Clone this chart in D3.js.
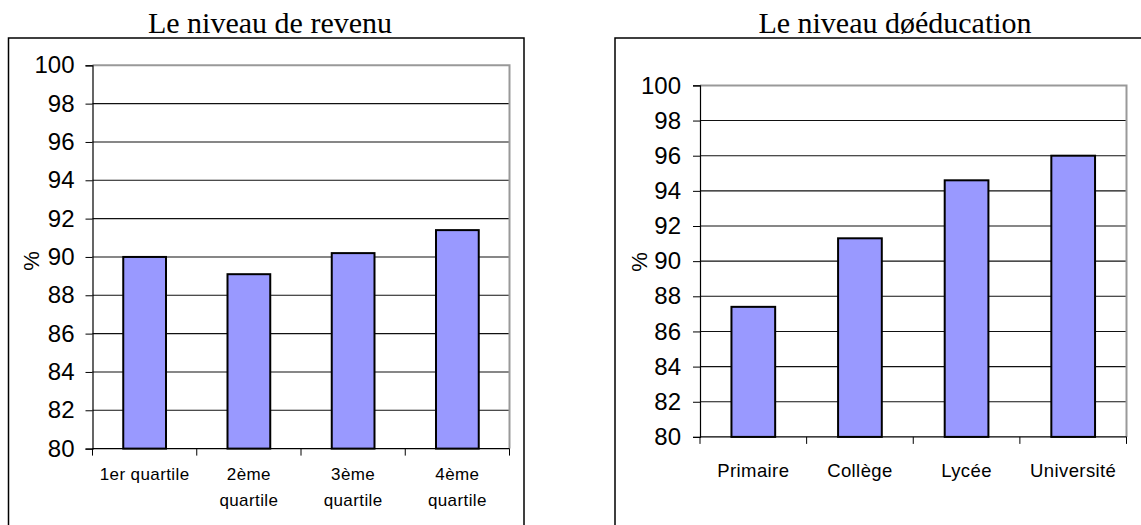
<!DOCTYPE html>
<html>
<head>
<meta charset="utf-8">
<script src="https://cdn.jsdelivr.net/npm/d3@7"></script>
<style>
  body { margin: 0; background: #fff; }
  svg { display: block; }
</style>
</head>
<body>
<svg id="chart" width="1141" height="525"></svg>
<script>
// Données
const revenuCategories = ["1er quartile", "2ème quartile", "3ème quartile", "4ème quartile"];
const revenuLabels = [["1er quartile"], ["2ème", "quartile"], ["3ème", "quartile"], ["4ème", "quartile"]];
const revenuValues = [90.0, 89.1, 90.2, 91.4];

const educationCategories = ["Primaire", "Collège", "Lycée", "Université"];
const educationLabels = [["Primaire"], ["Collège"], ["Lycée"], ["Université"]];
const educationValues = [87.4, 91.3, 94.6, 96.0];

const yTicks = [80, 82, 84, 86, 88, 90, 92, 94, 96, 98, 100];

const svg = d3.select("#chart");
const sans = "'Liberation Sans', Arial, sans-serif";
const serif = "'Liberation Serif', 'Times New Roman', serif";

function drawChart(cfg) {
  // cadre extérieur
  svg.append("rect")
    .attr("x", cfg.box[0]).attr("y", cfg.box[1])
    .attr("width", cfg.box[2] - cfg.box[0]).attr("height", cfg.box[3] - cfg.box[1])
    .attr("fill", "none").attr("stroke", "#000").attr("stroke-width", 1.5);

  const x = d3.scaleBand()
    .domain(cfg.categories)
    .range([cfg.left, cfg.right])
    .paddingInner(0.59)
    .paddingOuter(0.295);

  const y = d3.scaleLinear()
    .domain([80, 100])
    .range([cfg.bottom, cfg.top]);

  const g = svg.append("g");

  // quadrillage
  g.selectAll(".grid")
    .data(yTicks.filter(d => d > 80 && d < 100))
    .enter().append("line")
    .attr("x1", cfg.left).attr("x2", cfg.right)
    .attr("y1", d => y(d)).attr("y2", d => y(d))
    .attr("stroke", "#111").attr("stroke-width", 1.1);

  // bordure haut / droite en gris
  g.append("path")
    .attr("d", `M${cfg.left},${y(100)}H${cfg.right}V${y(80)}`)
    .attr("fill", "none").attr("stroke", "#999").attr("stroke-width", 2);

  // barres
  g.selectAll(".bar")
    .data(cfg.values)
    .enter().append("rect")
    .attr("x", (d, i) => x(cfg.categories[i]))
    .attr("y", d => y(d))
    .attr("width", x.bandwidth())
    .attr("height", d => y(80) - y(d))
    .attr("fill", "#9999ff")
    .attr("stroke", "#000")
    .attr("stroke-width", 2);

  // axe Y
  const yAxis = g.append("g")
    .attr("transform", `translate(${cfg.left},0)`)
    .call(d3.axisLeft(y).tickValues(yTicks).tickSize(7).tickPadding(cfg.yPad).tickFormat(d3.format("d")));
  yAxis.select(".domain").attr("stroke", "#000").attr("stroke-width", 1.2);
  yAxis.selectAll(".tick line").attr("stroke", "#000");
  yAxis.selectAll("text")
    .attr("font-family", sans).attr("font-size", 24).attr("fill", "#000");

  // axe X : graduations entre les catégories
  const step = x.step();
  const bounds = d3.range(cfg.categories.length + 1).map(i => cfg.left + i * step);
  g.append("line")
    .attr("x1", cfg.left).attr("x2", cfg.right)
    .attr("y1", y(80)).attr("y2", y(80))
    .attr("stroke", "#000").attr("stroke-width", 1.2);
  g.selectAll(".xtick")
    .data(bounds)
    .enter().append("line")
    .attr("x1", d => d).attr("x2", d => d)
    .attr("y1", y(80)).attr("y2", y(80) + 7)
    .attr("stroke", "#000");

  // libellés X
  cfg.labels.forEach((lines, i) => {
    const t = g.append("text")
      .attr("x", x(cfg.categories[i]) + x.bandwidth() / 2)
      .attr("y", cfg.labelY)
      .attr("text-anchor", "middle")
      .attr("font-family", sans).attr("font-size", cfg.labelSize)
      .attr("letter-spacing", cfg.labelSpacing);
    lines.forEach((s, j) => {
      t.append("tspan")
        .attr("x", x(cfg.categories[i]) + x.bandwidth() / 2)
        .attr("dy", j === 0 ? 0 : 26)
        .text(s);
    });
  });

  // titre de l'axe Y
  svg.append("text")
    .attr("transform", `translate(${cfg.pctX},${cfg.pctY}) rotate(-90)`)
    .attr("text-anchor", "middle")
    .attr("dominant-baseline", "central")
    .attr("font-family", sans).attr("font-size", 22)
    .text("%");

  // titre
  svg.append("text")
    .attr("x", cfg.titleX).attr("y", 33)
    .attr("text-anchor", "middle")
    .attr("font-family", serif).attr("font-size", 30)
    .text(cfg.title);
}

drawChart({
  box: [8.5, 38, 524, 540],
  left: 92.5, right: 509.5, top: 65.3, bottom: 448.6,
  categories: revenuCategories, labels: revenuLabels, values: revenuValues,
  labelY: 480, labelSize: 17, labelSpacing: 0.4, yPad: 11, pctX: 31, pctY: 261,
  titleX: 270,
  title: "Le niveau de revenu"
});

drawChart({
  box: [615, 38, 1160, 540],
  left: 700, right: 1126.5, top: 85.4, bottom: 436.9,
  categories: educationCategories, labels: educationLabels, values: educationValues,
  labelY: 477, labelSize: 18.5, labelSpacing: 0.4, yPad: 12, pctX: 639, pctY: 262,
  titleX: 895,
  title: "Le niveau døéducation"
});
</script>
</body>
</html>
